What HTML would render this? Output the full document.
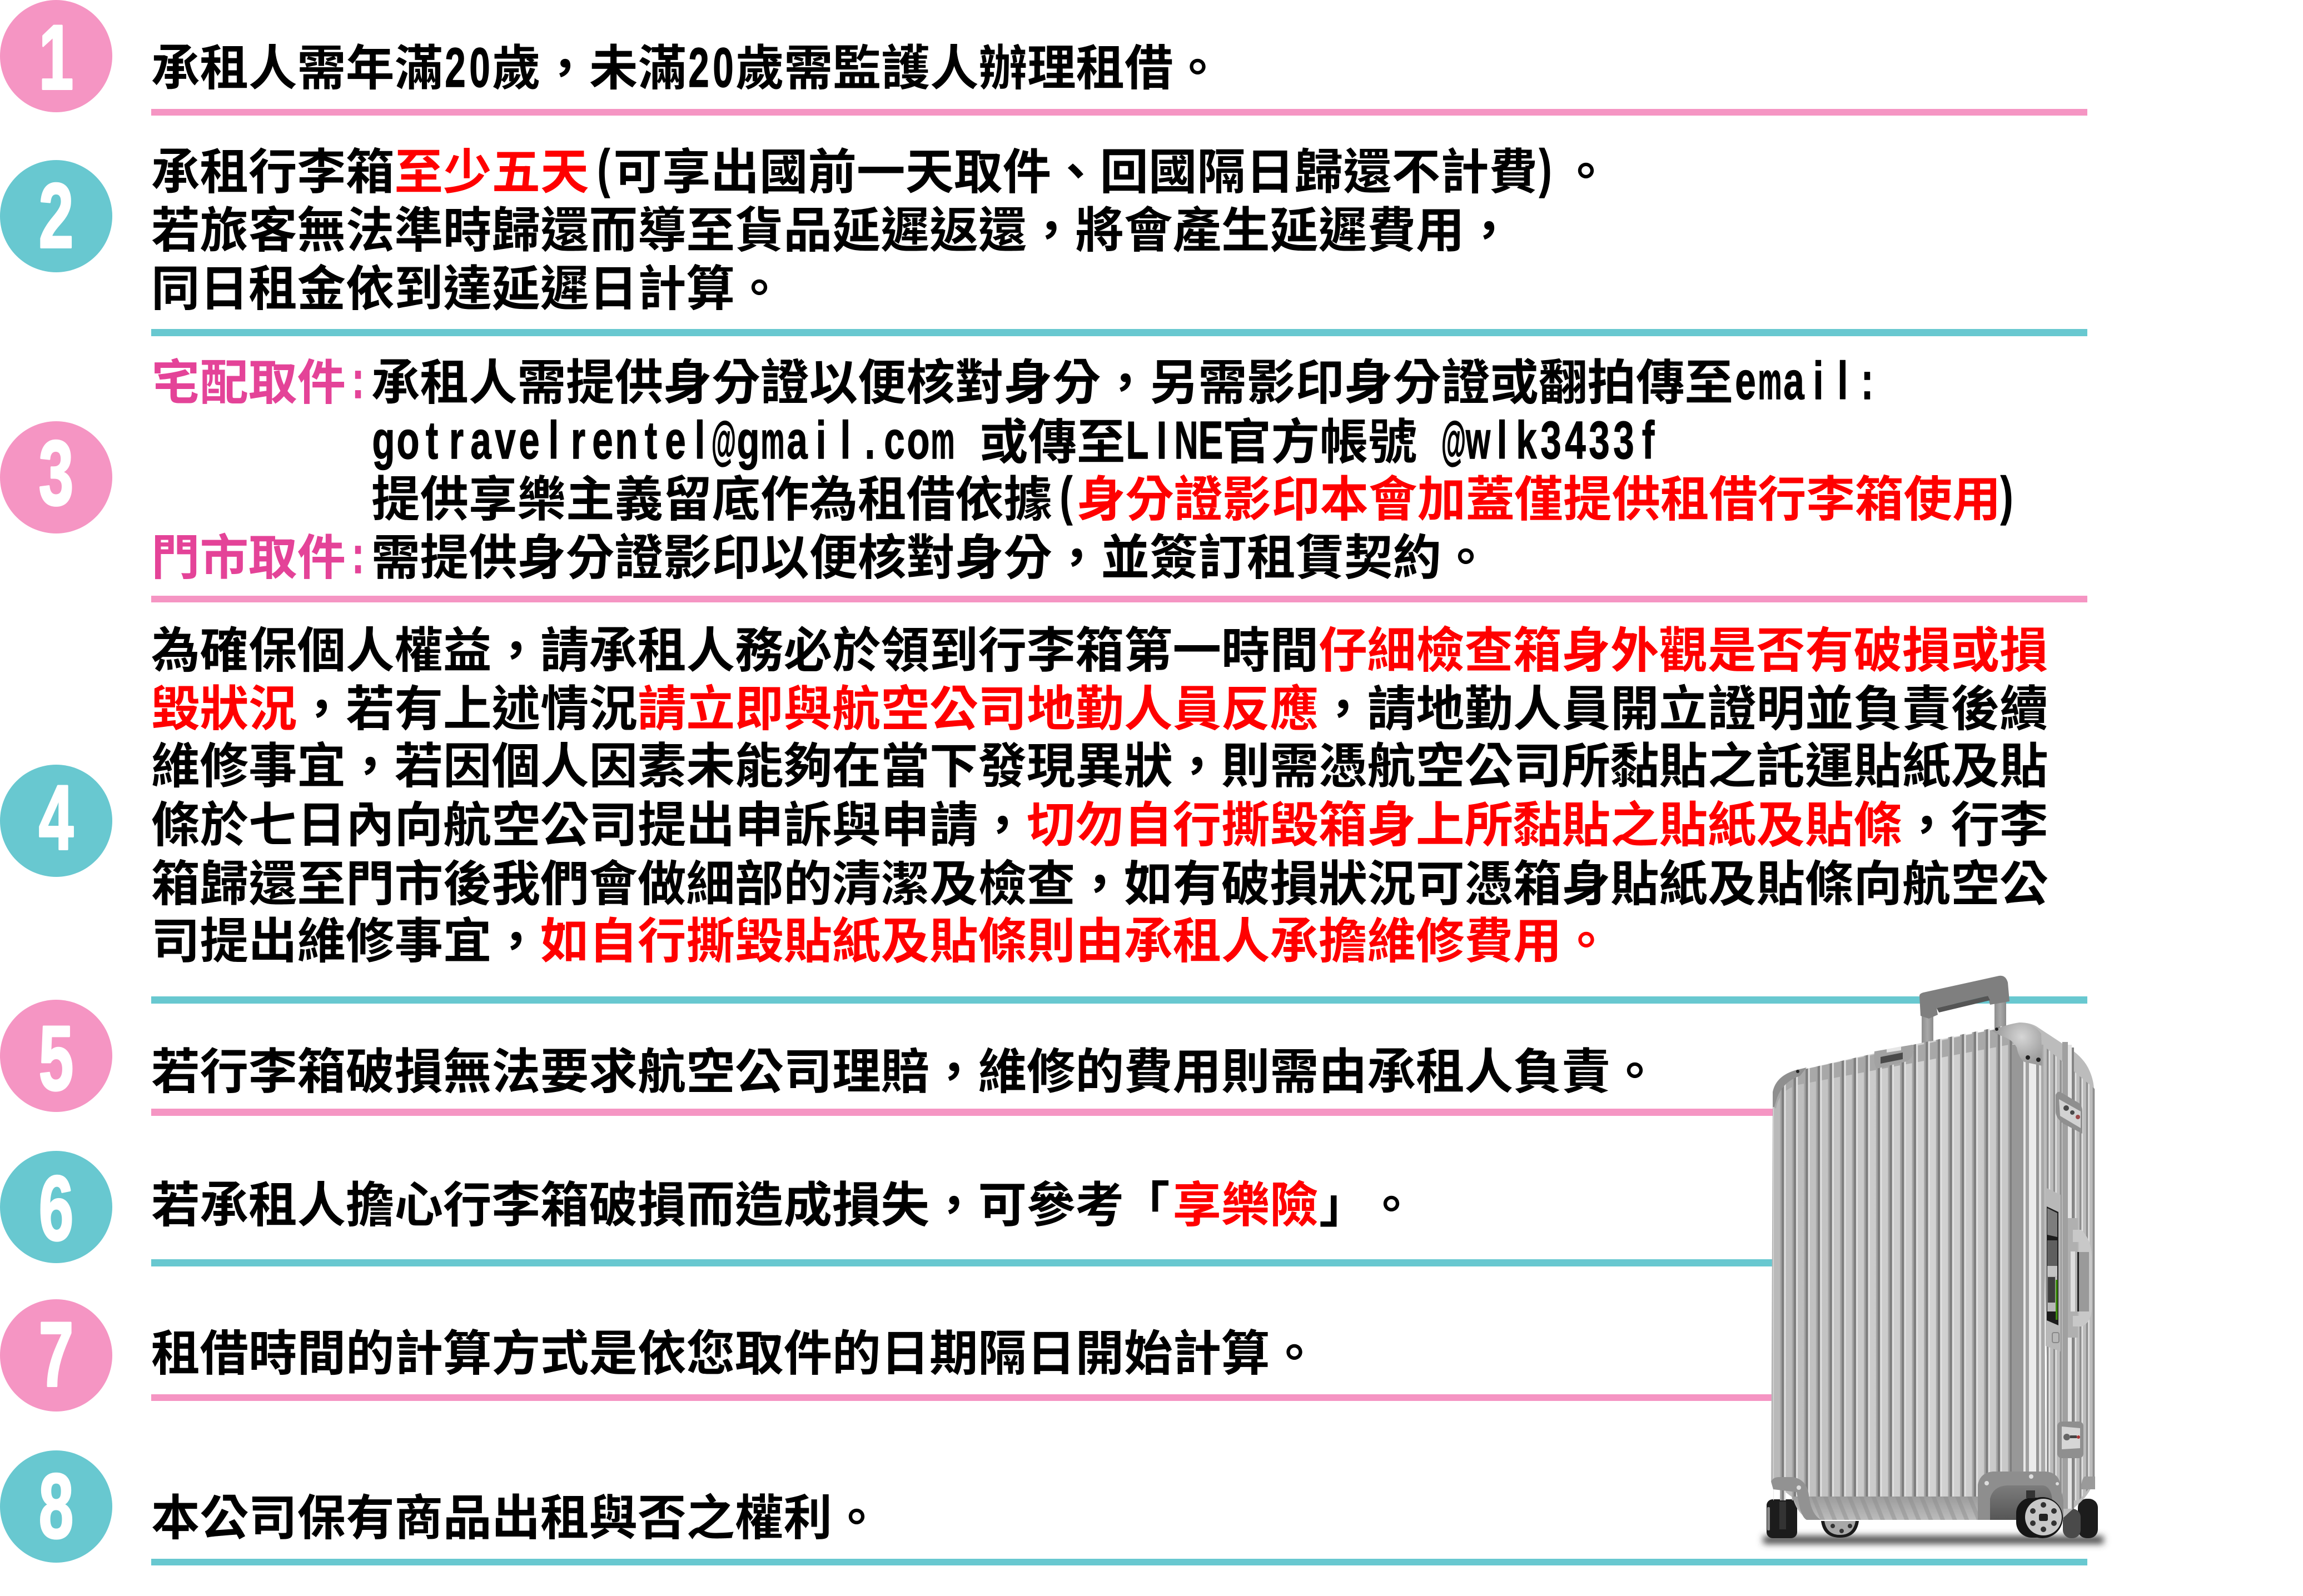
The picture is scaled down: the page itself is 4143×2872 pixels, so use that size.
<!DOCTYPE html>
<html lang="zh-Hant"><head><meta charset="utf-8"><title>租借須知</title>
<style>
html,body{margin:0;padding:0;background:#fff;width:4143px;height:2872px;overflow:hidden}
svg{display:block}
.c{font-family:"Liberation Sans","Noto Sans CJK TC",sans-serif;font-weight:700;font-size:87.5px;fill:#000;text-spacing-trim:space-all;font-kerning:none}
.l{font-family:"Liberation Sans",sans-serif;font-weight:700;font-size:67px;text-anchor:middle;fill:#000;stroke:#000;stroke-width:1;stroke-linejoin:round}
.n{font-family:"Liberation Sans",sans-serif;font-weight:700;font-size:165px;text-anchor:middle;fill:#fff;stroke:#fff;stroke-width:4;stroke-linejoin:round}
.r{fill:#f00}.p{fill:#e44398}.l.p{stroke:#e44398}
</style></head><body>
<svg width="4143" height="2872" viewBox="0 0 4143 2872" xmlns="http://www.w3.org/2000/svg">
<defs>
<linearGradient id="front" x1="0" x2="1" y1="0" y2="0">
<stop offset="0" stop-color="#b8b8b8"/><stop offset=".3" stop-color="#c9c9c9"/><stop offset=".6" stop-color="#d2d2d2"/><stop offset=".9" stop-color="#c6c6c6"/><stop offset="1" stop-color="#b8b8b8"/></linearGradient>
<linearGradient id="band" x1="0" x2="0" y1="0" y2="1">
<stop offset="0" stop-color="#9c9c9c"/><stop offset="1" stop-color="#bcbcbc"/></linearGradient>
<linearGradient id="stem" x1="0" x2="1" y1="0" y2="0">
<stop offset="0" stop-color="#8d8d8d"/><stop offset=".5" stop-color="#a8a8a8"/><stop offset="1" stop-color="#8a8a8a"/></linearGradient>
<radialGradient id="plate" cx="3637" cy="1866" r="48" gradientUnits="userSpaceOnUse">
<stop offset="0" stop-color="#d6d6d6"/><stop offset="1" stop-color="#9c9c9c"/></radialGradient>
<linearGradient id="shade" x1="0" x2="0" y1="0" y2="1">
<stop offset="0" stop-color="#7c7c7c"/><stop offset="1" stop-color="#565656"/></linearGradient>
<pattern id="ribs" patternUnits="userSpaceOnUse" x="3202" y="0" width="21.6" height="20">
<rect x="0" y="0" width="3" height="20" fill="#a6a6a6"/><rect x="3" y="0" width="4.500" height="20" fill="#7e7e7e"/><rect x="7.500" y="0" width="3" height="20" fill="#e2e2e2"/></pattern>
<pattern id="ribs2" patternUnits="userSpaceOnUse" x="3682" y="0" width="11.8" height="20">
<rect x="0" y="0" width="3.500" height="20" fill="#8f8f8f"/><rect x="3.500" y="0" width="2.500" height="20" fill="#e4e4e4"/></pattern>
<pattern id="ribs3" patternUnits="userSpaceOnUse" x="3250" y="0" width="21.6" height="20" patternTransform="skewX(22)">
<rect x="0" y="0" width="8" height="20" fill="#8b8b8b" opacity=".45"/></pattern>
<clipPath id="fc"><path d="M3189 1990 Q3189 1945 3233 1927 L3455 1877 L3633 1840 L3676 1880 L3680 2740 L3190 2740 Z"/></clipPath>
<filter id="blur" x="-10%" y="-200%" width="120%" height="500%"><feGaussianBlur stdDeviation="6"/></filter>
</defs>

<!-- rules -->
<g>
<rect x="272" y="196" width="3483" height="12" fill="#f595c3"/>
<rect x="272" y="592" width="3483" height="13" fill="#68c8d0"/>
<rect x="272" y="1072" width="3483" height="12" fill="#f595c3"/>
<rect x="272" y="1793" width="3483" height="13" fill="#68c8d0"/>
<rect x="272" y="1995" width="2920" height="13" fill="#f595c3"/>
<rect x="272" y="2266" width="2920" height="13" fill="#68c8d0"/>
<rect x="272" y="2509" width="2920" height="12" fill="#f595c3"/>
<rect x="272" y="2805" width="3483" height="12" fill="#68c8d0"/>
</g>

<!-- circles -->
<circle cx="101" cy="101" r="101" fill="#f595c3"/>
<circle cx="101" cy="389" r="101" fill="#68c8d0"/>
<circle cx="101" cy="859" r="101" fill="#f595c3"/>
<circle cx="101" cy="1477" r="101" fill="#68c8d0"/>
<circle cx="101" cy="1900" r="101" fill="#f595c3"/>
<circle cx="101" cy="2172" r="101" fill="#68c8d0"/>
<circle cx="101" cy="2439" r="101" fill="#f595c3"/>
<circle cx="101" cy="2711" r="101" fill="#68c8d0"/>
<text class="n" transform="translate(101,160) scale(.68,1)">1</text>
<text class="n" transform="translate(101,445) scale(.68,1)">2</text>
<text class="n" transform="translate(101,908) scale(.68,1)">3</text>
<text class="n" transform="translate(101,1528) scale(.68,1)">4</text>
<text class="n" transform="translate(101,1961) scale(.68,1)">5</text>
<text class="n" transform="translate(101,2231) scale(.68,1)">6</text>
<text class="n" transform="translate(101,2494) scale(.68,1)">7</text>
<text class="n" transform="translate(101,2767) scale(.68,1)">8</text>

<!-- 1 -->
<text class="c" x="272" y="153">承租人需年滿</text>
<text class="l" transform="translate(0,156) scale(1,1.5)" x="819 863">20</text>
<text class="c" x="885" y="153">歲，未滿</text>
<text class="l" transform="translate(0,156) scale(1,1.5)" x="1257 1301">20</text>
<text class="c" x="1323" y="153">歲需監護人辦理租借。</text>

<!-- 2 -->
<text class="c" x="272" y="340">承租行李箱<tspan class="r">至少五天</tspan></text>
<text class="l" transform="translate(1086,336) scale(1,1.42)">(</text>
<text class="c" x="1103.5" y="340">可享出國前一天取件、回國隔日歸還不計費</text>
<text class="l" transform="translate(2780,336) scale(1,1.42)">)</text>
<text class="c" x="2809" y="340">。</text>
<text class="c" x="272" y="445">若旅客無法準時歸還而導至貨品延遲返還，將會產生延遲費用，</text>
<text class="c" x="272" y="550">同日租金依到達延遲日計算。</text>

<!-- 3 -->
<text class="c p" x="272" y="719">宅配取件</text>
<text class="l p" transform="translate(644,716) scale(1,1.42)">:</text>
<text class="c" x="668" y="719">承租人需提供身分證以便核對身分，另需影印身分證或翻拍傳至</text>
<text class="l" transform="translate(0,718) scale(1,1.42)" x="3140">e</text>
<text class="l" transform="translate(3184,718) scale(.72,1.42)">m</text>
<text class="l" transform="translate(0,718) scale(1,1.42)" x="3227 3271 3315 3359">ail:</text>

<text class="l" transform="translate(0,825) scale(1,1.42)" x="690 734 777 821 865 909 952 996 1040 1084 1127 1171 1215 1259">gotravelrentel</text>
<text class="l" transform="translate(1302,825) scale(.68,1.42)">@</text>
<text class="l" transform="translate(1346,825) scale(1,1.42)">g</text>
<text class="l" transform="translate(1390,825) scale(.72,1.42)">m</text>
<text class="l" transform="translate(0,825) scale(1,1.42)" x="1434 1477 1521 1565 1609 1652">ail.co</text>
<text class="l" transform="translate(1696,825) scale(.72,1.42)">m</text>
<text class="c" x="1762" y="826">或傳至</text>
<text class="l" transform="translate(0,825) scale(1,1.42)" x="2046 2090">LI</text>
<text class="l" transform="translate(2134,825) scale(.88,1.42)">N</text>
<text class="l" transform="translate(2178,825) scale(1,1.42)">E</text>
<text class="c" x="2199" y="826">官方帳號</text>
<text class="l" transform="translate(2615,825) scale(.68,1.42)">@</text>
<text class="l" transform="translate(2659,825) scale(.85,1.42)">w</text>
<text class="l" transform="translate(0,825) scale(1,1.42)" x="2702 2746 2790 2834 2877 2921 2965">lk3433f</text>

<text class="c" x="668" y="929">提供享樂主義留底作為租借依據</text>
<text class="l" transform="translate(1918,925) scale(1,1.42)">(</text>
<text class="c r" x="1937" y="929">身分證影印本會加蓋僅提供租借行李箱使用</text>
<text class="l" transform="translate(3610,925) scale(1,1.42)">)</text>

<text class="c p" x="272" y="1034">門市取件</text>
<text class="l p" transform="translate(644,1031) scale(1,1.42)">:</text>
<text class="c" x="668" y="1034">需提供身分證影印以便核對身分，並簽訂租賃契約。</text>

<!-- 4 -->
<text class="c" x="272" y="1201">為確保個人權益，請承租人務必於領到行李箱第一時間<tspan class="r">仔細檢查箱身外觀是否有破損或損</tspan></text>
<text class="c" x="272" y="1306"><tspan class="r">毀狀況</tspan>，若有上述情況<tspan class="r">請立即與航空公司地勤人員反應</tspan>，請地勤人員開立證明並負責後續</text>
<text class="c" x="272" y="1409">維修事宜，若因個人因素未能夠在當下發現異狀，則需憑航空公司所黏貼之託運貼紙及貼</text>
<text class="c" x="272" y="1515">條於七日內向航空公司提出申訴與申請，<tspan class="r">切勿自行撕毀箱身上所黏貼之貼紙及貼條</tspan>，行李</text>
<text class="c" x="272" y="1621">箱歸還至門市後我們會做細部的清潔及檢查，如有破損狀況可憑箱身貼紙及貼條向航空公</text>
<text class="c" x="272" y="1724">司提出維修事宜，<tspan class="r">如自行撕毀貼紙及貼條則由承租人承擔維修費用。</tspan></text>

<!-- 5-8 -->
<text class="c" x="272" y="1959">若行李箱破損無法要求航空公司理賠，維修的費用則需由承租人負責。</text>
<text class="c" x="272" y="2199">若承租人擔心行李箱破損而造成損失，可參考</text>
<text class="c" x="2017" y="2199">「</text>
<text class="c r" x="2109.5" y="2199">享樂險</text>
<text class="c" x="2373" y="2199">」</text>
<text class="c" x="2459" y="2199">。</text>
<text class="c" x="272" y="2466">租借時間的計算方式是依您取件的日期隔日開始計算。</text>
<text class="c" x="272" y="2762">本公司保有商品出租與否之權利。</text>

<!-- suitcase -->
<g>
<rect x="3172" y="2764" width="612" height="14" fill="#444" filter="url(#blur)"/>
<!-- handle -->
<rect x="3457" y="1820" width="21" height="60" fill="url(#stem)"/>
<rect x="3588" y="1795" width="21" height="60" fill="url(#stem)"/>
<path d="M3453 1792 Q3453 1788 3460 1786 L3596 1756 Q3608 1754 3612 1768 L3615 1802 L3580 1808 L3576 1792 L3484 1814 L3486 1826 L3470 1833 L3455 1828 Z" fill="#7f7f7f"/>
<path d="M3484 1814 L3576 1792 L3580 1800 L3488 1822 Z" fill="#555"/>
<!-- rear wheels -->
<rect x="3178" y="2698" width="55" height="70" rx="11" fill="#1c1c1c"/>
<rect x="3179" y="2712" width="5" height="42" rx="2" fill="#8a8a8a"/>
<rect x="3201" y="2702" width="12" height="50" fill="#333"/>
<path d="M3276 2737 h68 q-4 30 -34 30 q-30 0 -34 -30z" fill="#1a1a1a"/>
<path d="M3282 2737 h56 q-4 25 -28 25 q-24 0 -28 -25z" fill="#a8a8a8"/>
<circle cx="3297" cy="2746" r="4" fill="#333"/><circle cx="3313" cy="2755" r="4" fill="#333"/><circle cx="3328" cy="2746" r="4" fill="#333"/>
<rect x="3738" y="2697" width="36" height="71" rx="16" fill="#1c1c1c"/>
<rect x="3711" y="2715" width="32" height="53" rx="15" fill="#4a4a4a"/>
<!-- side face -->
<path d="M3633 1840 Q3655 1840 3668 1850 L3724 1887 Q3750 1905 3759 1927 Q3767 1945 3767 1963 L3769 2660 Q3760 2690 3735 2710 L3711 2732 L3690 2735 L3670 2000 Z" fill="#bcbcbc"/>
<path d="M3680 1885 L3769 1960 V2665 L3740 2700 L3680 2700 Z" fill="url(#ribs2)"/>
<rect x="3710" y="1875" width="10" height="840" fill="#a0a0a0"/>
<rect x="3720" y="1880" width="7" height="835" fill="#e4e4e4"/>
<rect x="3727" y="1885" width="4" height="830" fill="#848484"/>
<!-- front face -->
<path d="M3189 1990 Q3189 1945 3233 1927 L3455 1877 L3585 1853 L3633 1840 L3676 1880 L3680 2735 L3260 2735 Q3235 2730 3225 2695 L3186 2665 Z" fill="url(#front)"/>
<g clip-path="url(#fc)">
<path d="M3189 1990 Q3189 1945 3233 1927 L3585 1853 L3640 1845 V1875 L3235 1952 Q3200 1962 3195 1995 Z" fill="#a8a8a8"/>
<rect x="3190" y="1840" width="430" height="860" fill="url(#ribs)"/>
<rect x="3619" y="1880" width="21" height="820" fill="#989898"/>
<rect x="3640" y="1880" width="4" height="820" fill="#e8e8e8"/>
<rect x="3644" y="1880" width="6" height="820" fill="#a0a0a0"/>
<rect x="3650" y="1880" width="13" height="820" fill="#ececec"/>
<rect x="3663" y="1880" width="5" height="820" fill="#959595"/>
<rect x="3668" y="1880" width="4" height="820" fill="#e0e0e0"/>
<rect x="3672" y="1880" width="8" height="820" fill="#a8a8a8"/>
</g>
<!-- bottom band -->
<path d="M3225 2693 H3600 V2735 H3262 Q3238 2730 3225 2693 Z" fill="url(#band)"/>
<path d="M3225 2693 H3600 V2735 H3262 Q3238 2730 3225 2693 Z" fill="url(#ribs3)"/>
<!-- top corner plates -->
<path d="M3189 1992 L3189 1965 Q3195 1935 3233 1925 L3250 1921 L3238 1936 Q3208 1946 3197 1975 L3192 1992 Z" fill="#8f8f8f"/>
<circle cx="3234" cy="1928" r="3" fill="#222"/>
<path d="M3583 1855 Q3610 1843 3633 1840 Q3660 1842 3672 1860 L3674 1918 L3642 1911 Q3632 1905 3628 1885 Q3620 1870 3600 1864 Z" fill="url(#plate)"/>
<circle cx="3648" cy="1903" r="4" fill="#222"/><circle cx="3667" cy="1907" r="4" fill="#222"/><circle cx="3592" cy="1852" r="3" fill="#222"/>
<!-- top carry handle -->
<path d="M3372 1892 L3440 1880 L3443 1890 Q3440 1905 3430 1910 L3376 1923 Q3370 1915 3372 1892 Z" fill="#a2a2a2"/>
<path d="M3383 1902 L3423 1894 V1906 L3383 1914 Z" fill="#4a4a4a"/>
<path d="M3394 1888 L3420 1883 V1890 L3394 1894 Z" fill="#e6e6e6"/>
<!-- bottom plates -->
<path d="M3186 2666 Q3190 2658 3200 2658 L3225 2658 Q3250 2662 3254 2690 Q3258 2725 3276 2735 L3250 2735 Q3240 2730 3235 2700 L3232 2685 L3190 2680 Z" fill="#929292"/>
<circle cx="3236" cy="2677" r="4" fill="#ddd"/>
<path d="M3558 2735 V2672 Q3562 2650 3585 2648 L3680 2648 Q3705 2650 3707 2675 L3712 2700 L3712 2735 Z" fill="#8e8e8e"/>
<path d="M3580 2735 V2697 Q3585 2675 3610 2673 L3675 2673 Q3690 2675 3692 2700 V2735 Z" fill="url(#shade)"/>
<circle cx="3574" cy="2669" r="4" fill="#ddd"/><circle cx="3654" cy="2657" r="4" fill="#ddd"/><circle cx="3701" cy="2670" r="3" fill="#ddd"/>
<path d="M3769 2657 L3750 2657 Q3744 2662 3744 2680 L3769 2680 Z" fill="#9a9a9a"/>
<!-- front wheel -->
<rect x="3627" y="2695" width="62" height="72" rx="28" fill="#161616"/>
<ellipse cx="3674" cy="2731" rx="37" ry="37" fill="#161616"/>
<circle cx="3676" cy="2730" r="33" fill="#c8c8c8"/>
<rect x="3668" y="2724" width="16" height="13" rx="3" fill="#222"/>
<circle cx="3676" cy="2708" r="5" fill="#333"/><circle cx="3676" cy="2752" r="5" fill="#333"/>
<circle cx="3657" cy="2719" r="5" fill="#333"/><circle cx="3695" cy="2719" r="5" fill="#333"/>
<circle cx="3657" cy="2741" r="5" fill="#333"/><circle cx="3695" cy="2741" r="5" fill="#333"/>
<rect x="3645" y="2682" width="16" height="14" fill="#333"/>
<!-- locks -->
<path d="M3698 1970 Q3702 1962 3708 1966 L3740 1985 Q3746 1990 3746 2000 V2040 L3712 2022 Q3698 2012 3698 2000 Z" fill="#8f8f8f"/>
<path d="M3704 1978 L3743 2000 V2030 L3706 2008 Z" fill="#d2d2d2"/>
<circle cx="3717" cy="1994" r="5" fill="#4a4a4a"/><circle cx="3728" cy="2002" r="4" fill="#4a4a4a"/><circle cx="3738" cy="2010" r="4" fill="#9a4a4a"/>
<rect x="3701" y="2558" width="47" height="66" rx="8" fill="#8f8f8f"/>
<path d="M3709 2567 L3742 2570 V2606 L3709 2608 Z" fill="#d6d6d6"/>
<circle cx="3718" cy="2586" r="6" fill="#666"/><rect x="3724" y="2583" width="12" height="5" fill="#444"/><circle cx="3739" cy="2586" r="3" fill="#a33"/>
<!-- label panel -->
<path d="M3680 2137 L3707 2150 V2432 L3680 2422 Z" fill="#b8b8b8"/>
<path d="M3682 2171 L3703 2181 V2385 L3682 2376 Z" fill="#1c1c1c"/>
<path d="M3683 2174 L3701 2183 V2226 L3683 2222 Z" fill="#7d7d7d"/>
<rect x="3683" y="2232" width="18" height="46" fill="#5f5f5f"/>
<rect x="3683" y="2278" width="18" height="18" fill="#c4c4c4"/>
<rect x="3683" y="2296" width="18" height="64" fill="#b8b8b8"/>
<rect x="3684" y="2298" width="13" height="46" fill="#3d3d3d"/>
<rect x="3698" y="2303" width="3.500" height="72" fill="#3d8c0d"/>
<rect x="3692" y="2398" width="12" height="18" rx="3" fill="none" stroke="#888" stroke-width="2"/>
<!-- side handle -->
<rect x="3720" y="2192" width="18" height="215" fill="#b0b0b0"/>
<path d="M3729 2213 H3744 Q3762 2230 3763 2260 V2355 Q3762 2380 3745 2387 H3729 V2368 H3740 V2235 H3729 Z" fill="#c8c8c8"/>
<rect x="3740" y="2253" width="18" height="107" fill="#9a9a9a"/>
<rect x="3737" y="2253" width="3" height="107" fill="#222"/>
<rect x="3725" y="2252" width="8" height="108" fill="#dedede"/>
</g>
</svg>
</body></html>
